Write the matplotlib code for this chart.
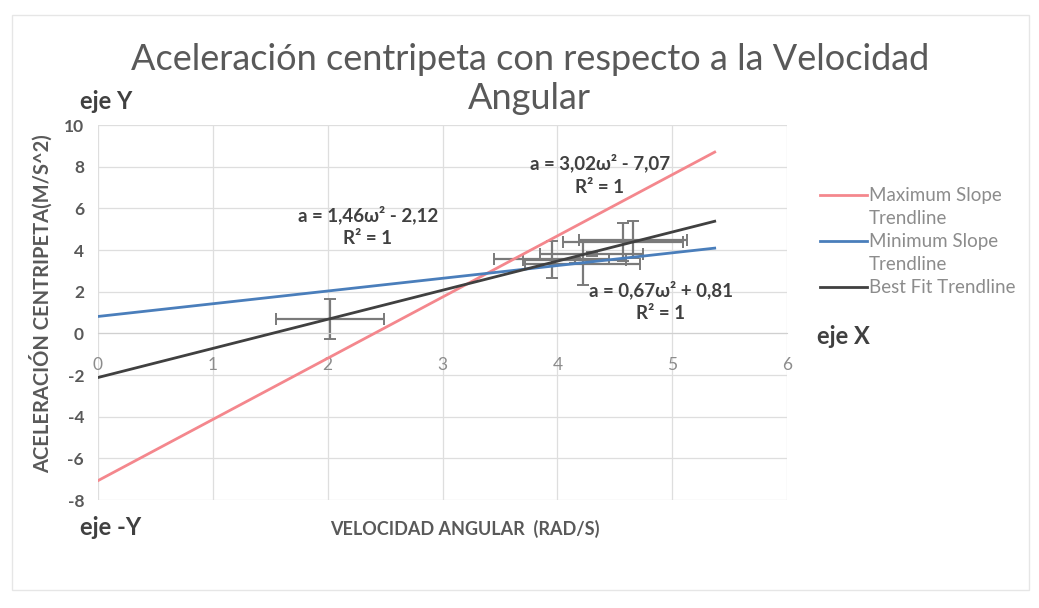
import matplotlib.pyplot as plt
from matplotlib.lines import Line2D
from matplotlib.patches import Rectangle

# trendline end points
max_x = [0, 5.37]
max_y = [-7.07, 8.7]
min_x = [0, 5.37]
min_y = [0.81, 4.09]
best_x = [0, 5.37]
best_y = [-2.12, 5.38]

# measured points with error bars
pt_x = [2.02, 3.95, 4.22, 4.57, 4.66, 4.30, 4.15]
pt_y = [0.69, 3.55, 3.35, 4.38, 4.50, 3.80, 3.50]
pt_xerr = [0.47, 0.50, 0.50, 0.52, 0.47, 0.45, 0.45]
pt_yerr = [0.94, 0.90, 1.05, 0.90, 0.90, 0.10, 0.10]

xticks = [0, 1, 2, 3, 4, 5, 6]
yticks = [-8, -6, -4, -2, 0, 2, 4, 6, 8, 10]

plt.rcParams['font.family'] = ['Lato', 'DejaVu Sans']

fig = plt.figure(figsize=(10.39, 6.08), dpi=100)
ax = fig.add_axes([0.0943, 0.1776, 0.6632, 0.6168])

ax.set_xlim(0, 6)
ax.set_ylim(-8, 10)
ax.set_xticks(xticks)
ax.set_yticks(yticks)
ax.set_yticklabels([str(v) for v in yticks], fontweight='bold')
ax.grid(True, color='#dedede', linewidth=0.9)
ax.set_axisbelow(True)
for s in ['top', 'right', 'left']:
    ax.spines[s].set_visible(False)
ax.spines['bottom'].set_position(('data', 0))
ax.spines['bottom'].set_color('#d0d0d0')
ax.tick_params(axis='x', length=0, pad=17, labelsize=12.5, labelcolor='#8c8c8c')
ax.tick_params(axis='y', length=0, pad=10, labelsize=12.5, labelcolor='#595959')

ax.errorbar(pt_x, pt_y, xerr=pt_xerr, yerr=pt_yerr, fmt='none',
            ecolor='#7a7a7a', elinewidth=1.6, capsize=4, capthick=1.4, zorder=2)

l_max, = ax.plot(max_x, max_y, color='#f4878d', linewidth=2, zorder=3)
l_min, = ax.plot(min_x, min_y, color='#4a7ebb', linewidth=2, zorder=3)
l_best, = ax.plot(best_x, best_y, color='#404040', linewidth=2, zorder=3)

txt = dict(fontsize=13.5, fontweight='bold', color='#404040', ha='center', va='center',
           linespacing=1.45)
ax.text(2.35, 5.15, 'a = 1,46ω² - 2,12\nR² = 1', **txt)
ax.text(4.37, 7.6, 'a = 3,02ω² - 7,07\nR² = 1', **txt)
ax.text(4.9, 1.55, 'a = 0,67ω² + 0,81\nR² = 1', **txt)

fig.text(0.51, 0.87, 'Aceleración centripeta con respecto a la Velocidad\nAngular',
         ha='center', va='center', fontsize=26, color='#595959', linespacing=1.25)

blank = Line2D([], [], color='none')
fig.legend([l_max, blank, l_min, blank, l_best],
           ['Maximum Slope', 'Trendline', 'Minimum Slope', 'Trendline', 'Best Fit Trendline'],
           loc='upper left', bbox_to_anchor=(0.773, 0.72), frameon=False,
           fontsize=13.5, labelcolor='#8c8c8c', handlelength=2.5, handletextpad=0.1,
           labelspacing=0.32)

lab = dict(fontweight='bold', color='#404040', fontsize=17)
fig.text(0.077, 0.82, 'eje Y', **lab)
fig.text(0.077, 0.12, 'eje -Y', **lab)
fig.text(0.786, 0.435, 'eje X', **lab)
fig.text(0.318, 0.12, 'VELOCIDAD ANGULAR  (RAD/S)', fontweight='bold',
         color='#595959', fontsize=13)
fig.text(0.04, 0.5, 'ACELERACIÓN CENTRIPETA(M/S^2)', rotation=90, ha='center',
         va='center', fontweight='bold', color='#595959', fontsize=14.5)

fig.patches.append(Rectangle((0.012, 0.03), 0.978, 0.945, transform=fig.transFigure,
                             fill=False, edgecolor='#e6e6e6', linewidth=1))

fig.savefig('out.png', dpi=100)
